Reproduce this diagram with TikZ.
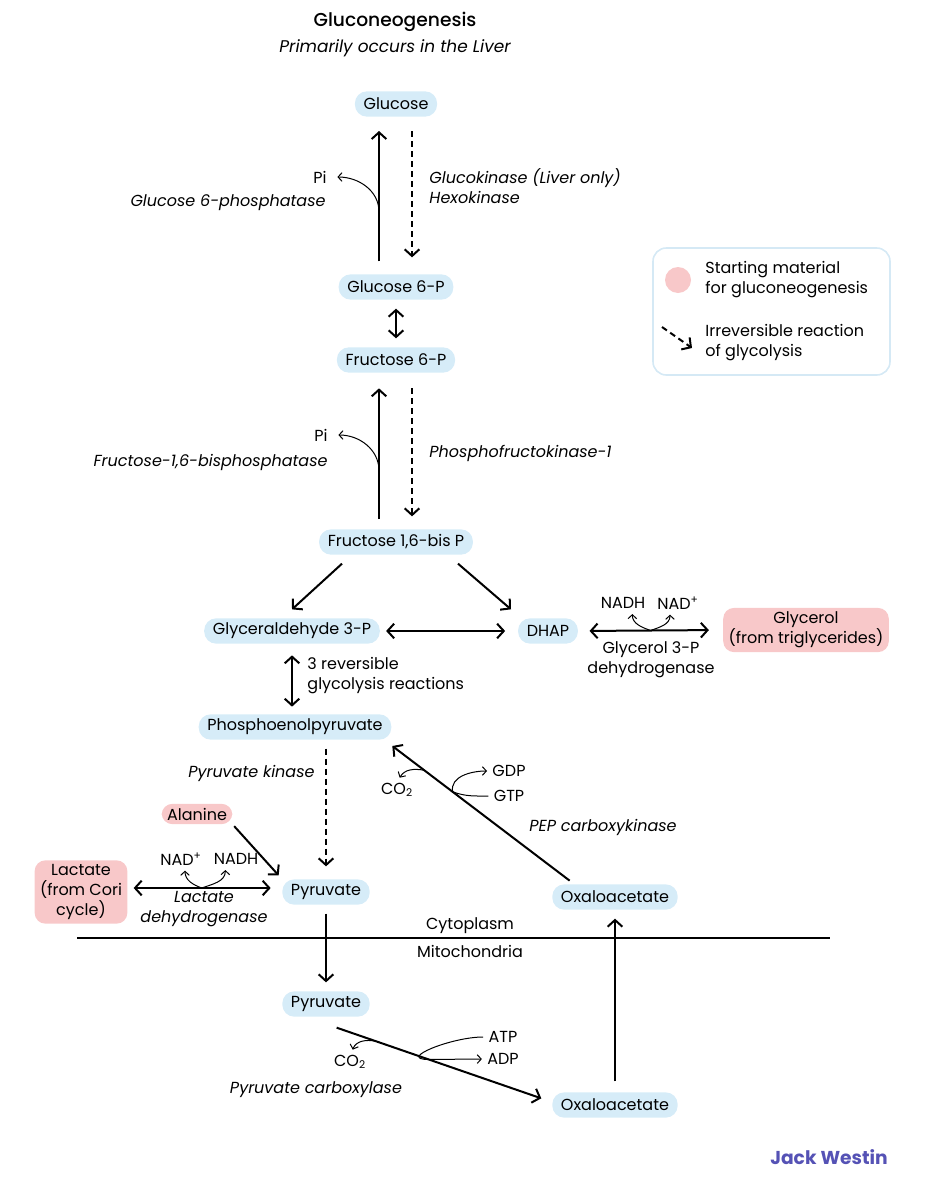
\documentclass[tikz,border=0pt]{standalone}
\usepackage{fontspec}
\setmainfont{Poppins}
\newfontfamily\titlefont{Poppins}[UprightFont=* Medium]
\usetikzlibrary{arrows.meta,positioning}

\definecolor{molblue}{HTML}{D6ECF8}
\definecolor{startpink}{HTML}{F8C8C9}
\definecolor{keyline}{HTML}{D5E9F5}
\definecolor{jwblue}{HTML}{5552B5}

\begin{document}
\begin{tikzpicture}[x=0.75pt,y=-0.75pt,line width=1.5pt,
                    >={Straight Barb[length=5pt,width=11pt]},
                    font=\fontsize{12}{15}\selectfont]
  \tikzstyle{mol}=[fill=molblue,rounded corners=9pt,inner xsep=6.5pt,inner ysep=0pt,minimum height=19pt]
  \tikzstyle{source}=[fill=startpink,rounded corners=8pt,align=center,inner xsep=4pt,inner ysep=3pt]
  \tikzstyle{enzyme}=[font=\fontsize{12}{15}\selectfont\itshape]
  \tikzstyle{side}=[line width=0.75pt,->,>={Straight Barb[length=3pt,width=6.5pt]}]
  \tikzstyle{irrev}=[->,dash pattern=on 4.5pt off 3pt]

  \useasboundingbox (0,0) rectangle (941,1200);

  % title
  \node[font=\fontsize{14}{16}\titlefont] (title) at (395,22) {Gluconeogenesis};
  \node[font=\fontsize{12.7}{15}\selectfont\itshape] (subtitle) at (395,48) {Primarily occurs in the Liver};

  % metabolites
  \node[mol] (glc)   at (396,104)  {Glucose};
  \node[mol] (g6p)   at (396,287)  {Glucose 6-P};
  \node[mol] (f6p)   at (396,360)  {Fructose 6-P};
  \node[mol] (f16bp) at (396,542)  {Fructose 1,6-bis P};
  \node[mol] (gap)   at (292,631)  {Glyceraldehyde 3-P};
  \node[mol] (dhap)  at (548,631)  {DHAP};
  \node[mol] (pep)   at (295,727)  {Phosphoenolpyruvate};
  \node[mol] (pyrc)  at (326,892)  {Pyruvate};
  \node[mol] (oaac)  at (615,897)  {Oxaloacetate};
  \node[mol] (pyrm)  at (326,1004) {Pyruvate};
  \node[mol] (oaam)  at (615,1105) {Oxaloacetate};

  % starting materials
  \node[source] (glycerol) at (806,630) {Glycerol\\(from triglycerides)};
  \node[source] (ala)      at (197,814) {Alanine};
  \node[source] (lac)      at (81,892)  {Lactate\\(from Cori\\cycle)};

  % glucose 6-P -> glucose
  \draw[->] ([xshift=-12.75pt,yshift=9pt]g6p.north) -- coordinate[pos=0.38] (glcfork)
            ([xshift=-12.75pt,yshift=-10pt]glc.south);
  \draw[irrev] ([xshift=12pt,yshift=-10pt]glc.south) -- ([xshift=12pt,yshift=12pt]g6p.north);
  \node (pi1) at (320,177) {Pi};
  \draw[side] (glcfork) to[out=90,in=0] ([xshift=4pt]pi1.east);
  \node[enzyme,anchor=east] (g6pase) at (331,203) {Glucose 6-phosphatase};
  \node[enzyme,anchor=west,align=left] (gk) at (424,186) {Glucokinase (Liver only)\\Hexokinase};

  \draw[<->,shorten <=6pt,shorten >=6pt] (g6p.south) -- (f6p.north);

  % fructose 1,6-bis P -> fructose 6-P
  \draw[->] ([xshift=-12.75pt,yshift=7pt]f16bp.north) -- coordinate[pos=0.37] (fbpfork)
            ([xshift=-12.75pt,yshift=-11pt]f6p.south);
  \draw[irrev] ([xshift=12pt,yshift=-11pt]f6p.south) -- ([xshift=12pt,yshift=9pt]f16bp.north);
  \node (pi2) at (321,435) {Pi};
  \draw[side] (fbpfork) to[out=90,in=0] ([xshift=4pt]pi2.east);
  \node[enzyme,anchor=east] (fbpase) at (333,462) {Fructose-1,6-bisphosphatase};
  \node[enzyme,anchor=west] (pfk) at (424,453) {Phosphofructokinase-1};

  % split into trioses
  \draw[->] ([xshift=-40.5pt,yshift=-6pt]f16bp.south) -- ([yshift=6pt]gap.north);
  \draw[->] ([xshift=46.5pt,yshift=-6pt]f16bp.south) -- ([xshift=-27.75pt,yshift=6pt]dhap.north);
  \draw[<->,shorten <=4pt,shorten >=9pt] (gap.east) -- (dhap.west);
  \draw[<->,shorten <=8pt,shorten >=10pt] (dhap.east) -- coordinate[pos=0.5] (g3pdhfork) (glycerol.west);
  \node (nadh1) at (623,603) {NADH};
  \node (nadp1) at (678,603) {NAD\textsuperscript{+}};
  \draw[side] (g3pdhfork) to[out=160,in=-90] ([xshift=7pt]nadh1.south);
  \draw[side] (g3pdhfork) to[out=20,in=-90] ([xshift=-6pt]nadp1.south);
  \node[align=center] (g3pdh) at (651,660) {Glycerol 3-P\\dehydrogenase};

  % lower glycolysis
  \draw[<->,shorten <=8pt,shorten >=5pt] (gap.south) -- (gap.south |- pep.north);
  \node[anchor=west,align=left] (rev3) at (302,676) {3 reversible\\glycolysis reactions};
  \draw[irrev] ([yshift=-6pt]pep.south -| pyrc) -- ([yshift=9pt]pyrc.north);
  \node[enzyme,anchor=east] (pk) at (320,773) {Pyruvate kinase};

  % alanine and lactate
  \draw[->,shorten <=1pt,shorten >=3pt] (ala.south east) -- (pyrc.north west);
  \draw[<->,shorten <=4pt,shorten >=8pt] ([yshift=3pt]lac.east) -- coordinate[pos=0.48] (ldhfork)
            ([yshift=3pt]pyrc.west);
  \node (nadp2) at (181,859) {NAD\textsuperscript{+}};
  \node (nadh2) at (236,859) {NADH};
  \draw[side] (ldhfork) to[out=160,in=-90] ([xshift=3pt]nadp2.south);
  \draw[side] (ldhfork) to[out=20,in=-90] ([xshift=-8pt]nadh2.south);
  \node[enzyme,align=center] (ldh) at (204,909) {Lactate\\dehydrogenase};

  % PEP carboxykinase
  \draw[->] ([xshift=-34pt,yshift=2pt]oaac.north) -- coordinate[pos=0.66] (pepckfork)
            coordinate[pos=0.82] (pepckco2) ([yshift=-4pt]pep.south east);
  \node (gdp) at (509,771) {GDP};
  \node (gtp) at (509,796) {GTP};
  \node (co2a) at (397,790) {CO\textsubscript{2}};
  \draw[side] (pepckfork) to[out=100,in=180] (gdp.west);
  \draw[line width=0.75pt] (gtp.west) to[out=180,in=-20] (pepckfork);
  \draw[side] (pepckco2) to[out=170,in=60] ([xshift=2pt]co2a.north);
  \node[enzyme] (pepck) at (603,827) {PEP carboxykinase};

  % membrane
  \coordinate (memL) at (77,938);
  \coordinate (memR) at (830,938);
  \draw (memL) -- (memR);
  \node (cyto) at (470,926) {Cytoplasm};
  \node (mito) at (470,951) {Mitochondria};

  \draw[->,shorten <=6pt,shorten >=6pt] (pyrc.south) -- (pyrm.north);
  \draw[->,shorten <=7.5pt,shorten >=6pt] (oaam.north) -- (oaac.south);

  % pyruvate carboxylase
  \draw[->] ([xshift=8pt,yshift=-7.5pt]pyrm.south) -- coordinate[pos=0.19] (pcco2)
            coordinate[pos=0.45] (pcatp) ([xshift=-7.5pt,yshift=5pt]oaam.west);
  \node (atp) at (503,1037) {ATP};
  \node (adp) at (503,1059) {ADP};
  \node (co2b) at (350,1062) {CO\textsubscript{2}};
  \draw[side] (atp.west) to[out=180,in=180,looseness=1.4] (pcatp) -- (adp.west);
  \draw[side] (pcco2) to[out=170,in=70] ([xshift=2pt]co2b.north);
  \node[enzyme] (pc) at (316,1090) {Pyruvate carboxylase};

  % legend
  \node[draw=keyline,line width=1.2pt,rounded corners=10pt,minimum width=177.75pt,
        minimum height=95.25pt] (legend) at (771.5,311.5) {};
  \node[circle,fill=startpink,minimum size=19.5pt,inner sep=0pt] (keydot) at (678,280) {};
  \node[anchor=west,align=left] (keystart) at (700,280) {Starting material\\for gluconeogenesis};
  \coordinate (keyA) at (662,327);
  \coordinate (keyB) at (692,348);
  \draw[irrev] (keyA) -- (keyB);
  \node[anchor=west,align=left] (keyirrev) at (700,343) {Irreversible reaction\\of glycolysis};

  \node[text=jwblue,font=\fontsize{14}{16}\selectfont\bfseries] (brand) at (829,1157) {Jack Westin};
\end{tikzpicture}
\end{document}
